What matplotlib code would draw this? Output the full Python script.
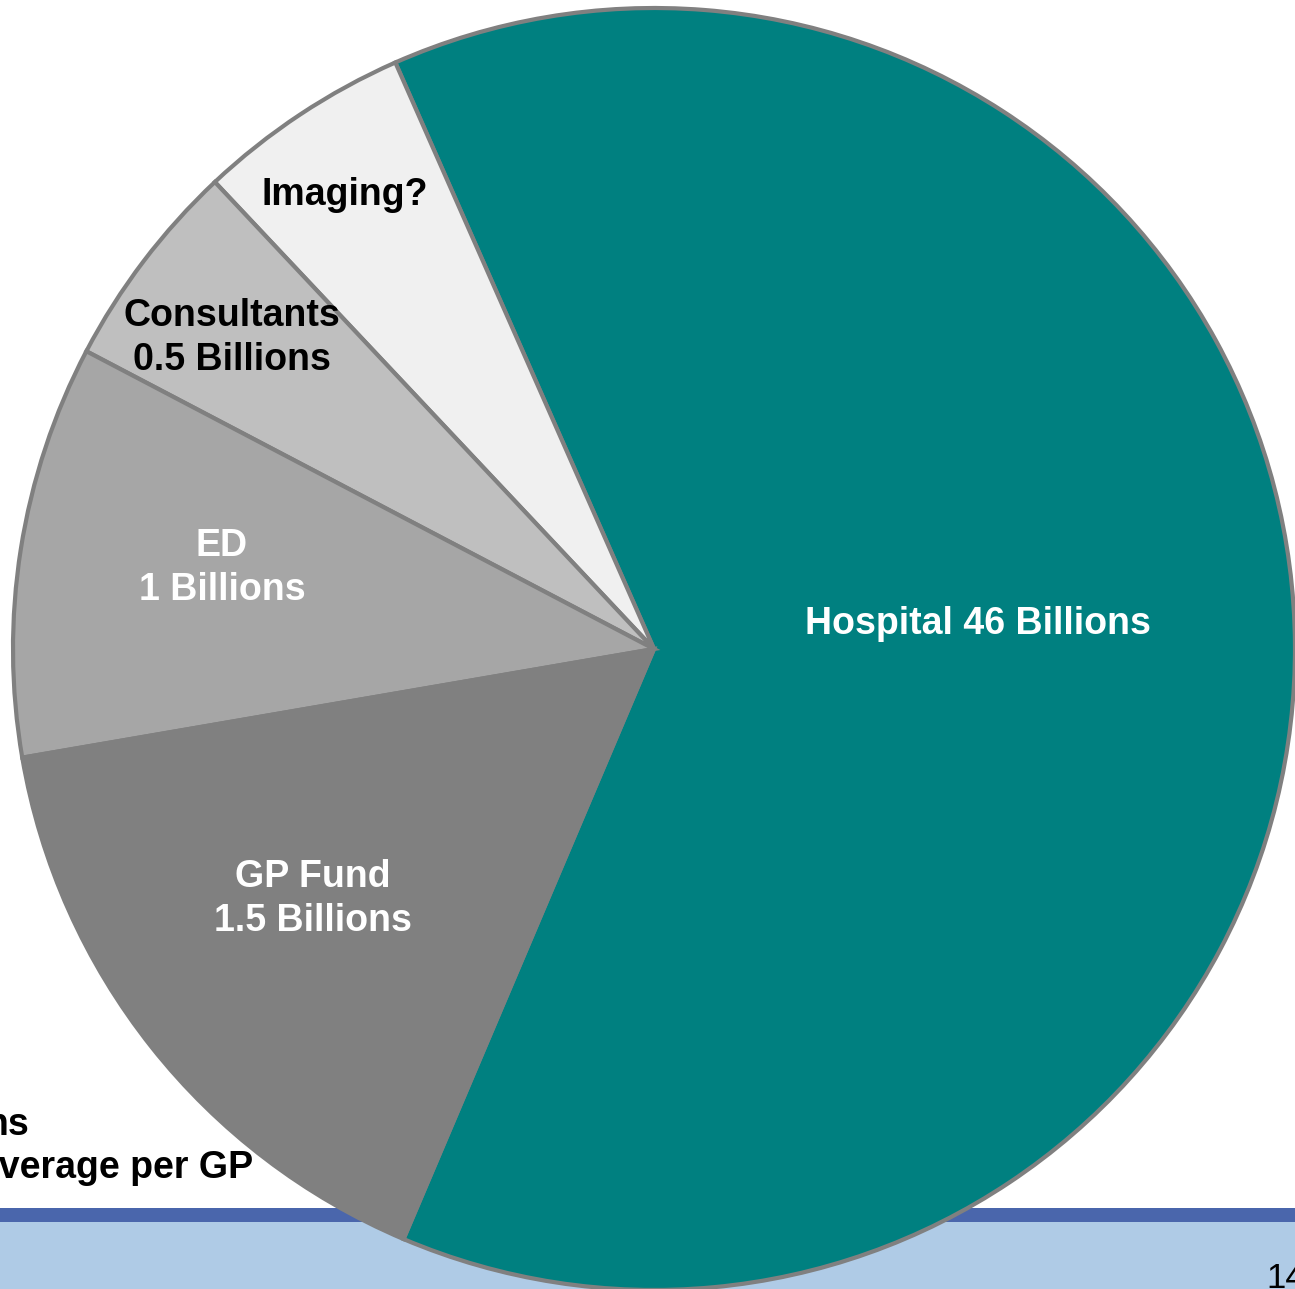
import matplotlib.pyplot as plt

# Slice shares (angular share, percent)
SLICE_NAMES = ["Hospital", "Imaging", "Consultants", "ED", "GP Fund"]
SLICE_SHARES = [63.0, 5.4, 5.3, 10.4, 15.9]
SLICE_LABELS = ["Hospital 46 Billions", "Imaging?", "Consultants\n0.5 Billions",
                "ED\n1 Billions", "GP Fund\n1.5 Billions"]
SLICE_COLORS = ["#008080", "#F0F0F0", "#BFBFBF", "#A6A6A6", "#808080"]
LABEL_COLORS = ["white", "black", "black", "white", "white"]

W, H = 1295, 1289  # figure size in pixels
FONT = "Liberation Sans"

fig = plt.figure(figsize=(W / 100, H / 100), dpi=100)
ax = fig.add_axes([0, 0, 1, 1])

# Pie, in pixel coordinates (y up)
cx, cy, r = 654, H - 649, 641
wedges, _ = ax.pie(SLICE_SHARES, colors=SLICE_COLORS, startangle=-113,
                   counterclock=True, center=(cx, cy), radius=r,
                   wedgeprops=dict(edgecolor="#808080", linewidth=3.0))
for w in wedges:
    w.set_zorder(3)

# Slice labels (positions in image pixels)
label_pos = [(978, 624), (345, 195), (232, 338), (222, 568), (313, 899)]
for text, (x, y), col in zip(SLICE_LABELS, label_pos, LABEL_COLORS):
    ax.text(x, H - y, text, ha="center", va="center", color=col,
            fontsize=27, fontweight="bold", family=FONT, linespacing=1.32,
            zorder=5)

# Slide footer bands behind the pie
ax.axhspan(H - 1222, H - 1208, color="#4A66AC", zorder=1, lw=0)
ax.axhspan(0, H - 1222, color="#AFCBE6", zorder=1, lw=0)

# Slide text partly outside the picture on the left, page number bottom right
ax.text(29, H - 1125, "ns", ha="right", va="center", fontsize=27,
        fontweight="bold", family=FONT, zorder=2)
ax.text(253, H - 1168, "Average per GP", ha="right", va="center", fontsize=27,
        fontweight="bold", family=FONT, zorder=2)
ax.text(1266, H - 1288, "14", ha="left", va="baseline", fontsize=25,
        family=FONT, zorder=2)

ax.set_xlim(0, W)
ax.set_ylim(0, H)
ax.set_aspect("equal")
ax.axis("off")

plt.savefig("out.png", dpi=100)
plt.close()
